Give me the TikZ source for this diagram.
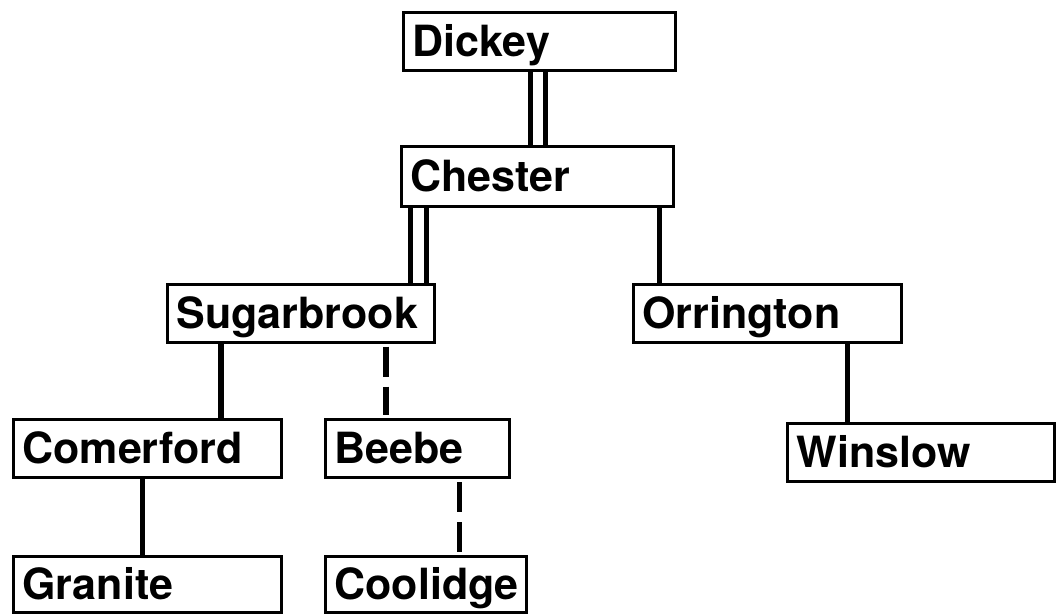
\documentclass[tikz,border=0pt]{standalone}
\usepackage{fontspec}
\setmainfont{TeX Gyre Heros}
\usepackage{tikz}
\usetikzlibrary{positioning}

\begin{document}
\begin{tikzpicture}[
  x=1pt,y=-1pt,
  box/.style={draw,line width=3pt,minimum height=58pt,inner xsep=9pt,inner ysep=0pt,
    text width=#1,align=left,text height=38pt,text depth=8pt,
    font=\fontsize{43}{43}\selectfont\bfseries},
  link/.style={line width=5.5pt},
  maybelink/.style={line width=5.5pt,dash pattern=on 30pt off 10pt,shorten <=3pt,shorten >=3pt}
]
  \useasboundingbox[fill=white] (0,0) rectangle (1059,614);
  \node[box=254pt] (dickey) at (539.5,41) {Dickey};
  \node[box=254pt,minimum height=60pt] (chester) at (537.5,176.5) {Chester};
  \node[box=249pt] (sugar) at (301,313) {Sugarbrook};
  \node[box=250pt] (orring) at (767.5,313.5) {Orrington};
  \node[box=250pt] (comer) at (147.5,448.5) {Comerford};
  \node[box=166pt] (beebe) at (417.5,448.5) {Beebe};
  \node[box=249pt] (winslow) at (921,452.5) {Winslow};
  \node[box=250pt,minimum height=56pt] (granite) at (147.5,584) {Granite};
  \node[box=183pt,minimum height=56pt] (coolidge) at (426,584) {Coolidge};
  \draw[link] ([xshift=-9pt]dickey.south) -- ([xshift=-9pt]dickey.south |- chester.north);
  \draw[link] ([xshift=6pt]dickey.south) -- ([xshift=6pt]dickey.south |- chester.north);
  \draw[link] ([xshift=-127pt]chester.south) -- ([xshift=-127pt]chester.south |- sugar.north);
  \draw[link] ([xshift=-111pt]chester.south) -- ([xshift=-111pt]chester.south |- sugar.north);
  \draw[link] ([xshift=122pt]chester.south) -- ([xshift=122pt]chester.south |- orring.north);
  \draw[link] ([xshift=-80pt]sugar.south) -- ([xshift=-80pt]sugar.south |- comer.north);
  \draw[maybelink] ([xshift=85pt]sugar.south) -- ([xshift=85pt]sugar.south |- beebe.north);
  \draw[link] ([xshift=80pt]orring.south) -- ([xshift=80pt]orring.south |- winslow.north);
  \draw[link] ([xshift=-5pt]comer.south) -- ([xshift=-5pt]comer.south |- granite.north);
  \draw[maybelink] ([xshift=42pt]beebe.south) -- ([xshift=42pt]beebe.south |- coolidge.north);
\end{tikzpicture}
\end{document}
